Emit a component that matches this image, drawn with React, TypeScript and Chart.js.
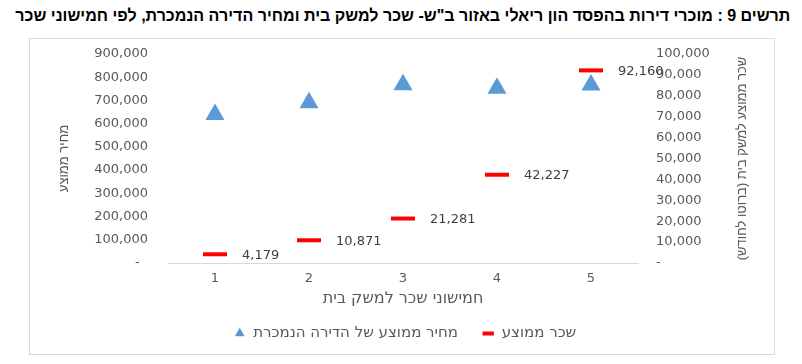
import React, { useEffect, useLayoutEffect, useRef } from 'react';
import { Chart, registerables } from 'chart.js';

Chart.register(...registerables);

const categories = ['1', '2', '3', '4', '5'];
const avgSalary = [4179, 10871, 21281, 42227, 92160];
const avgPrice = [640000, 690000, 768000, 752000, 766000];

const leftMax = 900000;
const leftStep = 100000;
const rightMax = 100000;
const rightStep = 10000;

const titleText = 'תרשים 9 : מוכרי דירות בהפסד הון ריאלי באזור ב"ש- שכר למשק בית ומחיר הדירה הנמכרת, לפי חמישוני שכר';
const salaryLabel = 'שכר ממוצע';
const priceLabel = 'מחיר ממוצע של הדירה הנמכרת';
const xTitle = 'חמישוני שכר למשק בית';
const yTitle = 'מחיר ממוצע';
const y2Title = 'שכר ממוצע למשק בית (ברוטו לחודש)';

const FONT = '"DejaVu Sans", sans-serif';
const HFONT = '"Liberation Sans", Arial, sans-serif';
const GREY = '#595959';

const fmt = (v: number) => (v === 0 ? '-' : v.toLocaleString('en-US'));

const extrasPlugin = {
  id: 'extras',
  afterDatasetsDraw(chart: any) {
    const ctx = chart.ctx;
    const meta = chart.getDatasetMeta(1);
    ctx.save();
    ctx.font = `13px ${FONT}`;
    ctx.fillStyle = '#404040';
    ctx.textAlign = 'left';
    ctx.textBaseline = 'middle';
    meta.data.forEach((pt: any, i: number) => {
      ctx.fillText(avgSalary[i].toLocaleString('en-US'), pt.x + 27, pt.y + 1);
    });
    ctx.restore();
  },
  afterDraw(chart: any) {
    const ctx = chart.ctx;
    const s = chart.scales.y2;
    const ca = chart.chartArea;
    ctx.save();
    ctx.translate(s.left + 104, (ca.top + ca.bottom) / 2);
    ctx.rotate(-Math.PI / 2);
    ctx.font = `13px ${HFONT}`;
    ctx.fillStyle = GREY;
    ctx.textAlign = 'center';
    ctx.textBaseline = 'middle';
    ctx.fillText(y2Title, 0, 0);
    ctx.restore();
  },
};

export default function App() {
  const canvasRef = useRef<HTMLCanvasElement>(null);
  const titleRef = useRef<HTMLSpanElement>(null);

  useLayoutEffect(() => {
    document.body.style.margin = '0';
    const el = titleRef.current;
    if (el) {
      const w = el.getBoundingClientRect().width;
      if (w > 0) el.style.transform = `scaleX(${775 / w})`;
    }
  }, []);

  useEffect(() => {
    if (!canvasRef.current) return;
    const chart = new Chart(canvasRef.current, {
      type: 'line',
      data: {
        labels: categories,
        datasets: [
          {
            label: priceLabel,
            data: avgPrice,
            yAxisID: 'y',
            showLine: false,
            pointStyle: 'triangle',
            pointRadius: 11,
            pointHoverRadius: 11,
            pointBackgroundColor: '#5B9BD5',
            pointBorderColor: '#5B9BD5',
            pointBorderWidth: 0,
            borderColor: '#5B9BD5',
            backgroundColor: '#5B9BD5',
          },
          {
            label: salaryLabel,
            data: avgSalary,
            yAxisID: 'y2',
            showLine: false,
            pointStyle: 'line',
            pointRadius: 12,
            pointHoverRadius: 12,
            pointBorderColor: '#FF0000',
            pointBackgroundColor: '#FF0000',
            pointBorderWidth: 4,
            borderColor: '#FF0000',
            backgroundColor: '#FF0000',
          },
        ],
      },
      options: {
        responsive: false,
        animation: false,
        devicePixelRatio: 1,
        layout: { padding: { left: 50, right: 42, top: 54, bottom: 13 } },
        plugins: {
          tooltip: { enabled: false },
          title: { display: false },
          legend: {
            display: true,
            position: 'bottom',
            labels: {
              usePointStyle: true,
              boxWidth: 12,
              boxHeight: 8,
              padding: 10,
              color: GREY,
              font: { family: FONT, size: 15 },
              generateLabels: (chart: any) => {
                const items = Chart.defaults.plugins.legend.labels.generateLabels(chart);
                items.forEach((it: any, i: number) => {
                  if (i === 0) it.text = it.text + '   ';
                });
                return items;
              },
            },
          },
        },
        scales: {
          x: {
            type: 'category',
            offset: true,
            grid: { display: false, drawTicks: false },
            border: { display: true, color: '#d9d9d9', width: 1 },
            ticks: { color: GREY, font: { family: FONT, size: 13 }, padding: 8 },
            title: {
              display: true,
              text: xTitle,
              color: GREY,
              font: { family: FONT, size: 16 },
              padding: { top: 0, bottom: 8 },
            },
            afterFit: (s: any) => {
              s.height = 53;
            },
          },
          y: {
            position: 'left',
            min: 0,
            max: leftMax,
            grid: { display: false, drawTicks: false },
            border: { display: false },
            ticks: {
              stepSize: leftStep,
              padding: 20,
              color: GREY,
              font: { family: FONT, size: 13 },
              callback: (v: any) => (v === 0 ? '-  ' : fmt(v)),
            },
            title: {
              display: true,
              text: yTitle,
              color: GREY,
              font: { family: HFONT, size: 13 },
              padding: { top: 7, bottom: 0 },
            },
            afterFit: (s: any) => {
              s.width = 118;
            },
          },
          y2: {
            position: 'right',
            min: 0,
            max: rightMax,
            grid: { display: false, drawTicks: false, drawOnChartArea: false },
            border: { display: false },
            ticks: {
              stepSize: rightStep,
              padding: 18,
              color: GREY,
              font: { family: FONT, size: 13 },
              callback: (v: any) => fmt(v),
            },
            afterFit: (s: any) => {
              s.width = 122;
            },
          },
        },
      } as any,
      plugins: [extrasPlugin],
    });
    return () => chart.destroy();
  }, []);

  return (
    <div style={{ position: 'relative', width: 802, height: 364, background: '#fff', overflow: 'hidden' }}>
      <div
        style={{
          position: 'absolute',
          left: 29,
          top: 38,
          width: 744,
          height: 315,
          border: '1px solid #d9d9d9',
        }}
      />
      <div style={{ position: 'absolute', right: 12, top: 6, whiteSpace: 'nowrap' }}>
        <span
          ref={titleRef}
          dir="rtl"
          style={{
            display: 'inline-block',
            transformOrigin: 'right center',
            font: 'bold 17px "Liberation Sans Narrow", "Liberation Sans", Arial, sans-serif',
            color: '#000',
          }}
        >
          {titleText}
        </span>
      </div>
      <canvas ref={canvasRef} width={802} height={364} style={{ position: 'absolute', left: 0, top: 0 }} />
    </div>
  );
}
